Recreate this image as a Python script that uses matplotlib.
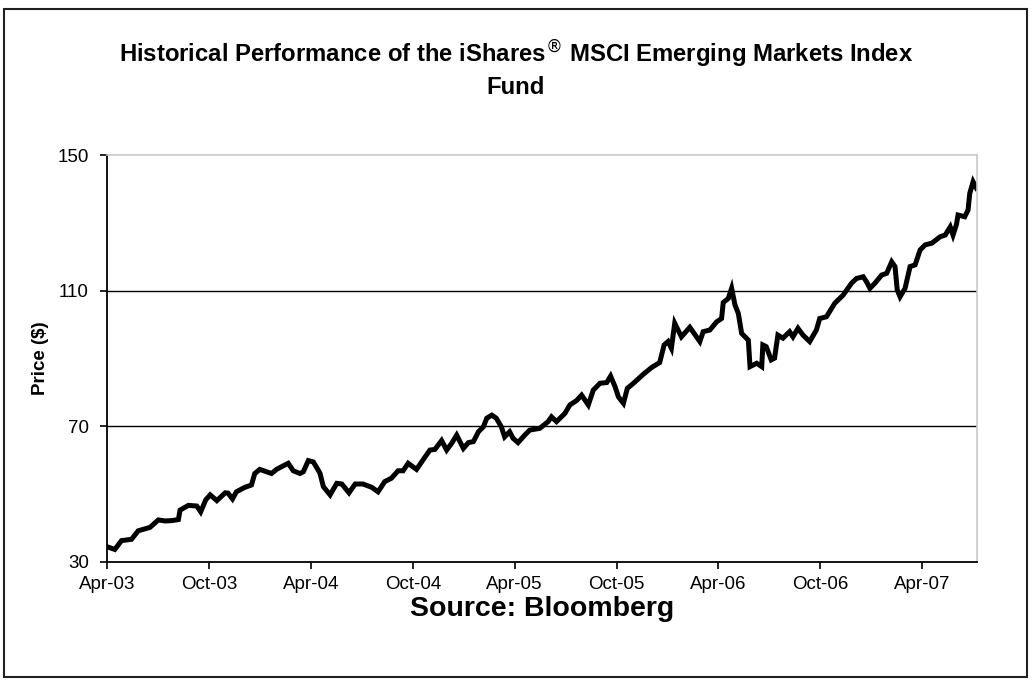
import matplotlib
matplotlib.use("Agg")
import matplotlib.pyplot as plt
from matplotlib.patches import Rectangle
import pandas as pd

plt.rcParams['font.family'] = ['Liberation Sans', 'DejaVu Sans']

start_date = "2003-04-01"
days_since_start = [
    0, 14, 26, 44, 56, 77, 92, 104, 116, 128, 131, 146, 161, 168, 177, 185, 197, 212, 217, 225,
    232, 247, 259, 265, 274, 286, 295, 304, 313, 325, 334, 346, 352, 361, 370, 379, 382, 388, 400, 412,
    421, 434, 445, 459, 475, 486, 498, 510, 522, 531, 540, 555, 570, 579, 588, 600, 609, 618, 627, 639,
    648, 657, 666, 675, 681, 690, 698, 707, 713, 722, 728, 737, 749, 758, 776, 791, 797, 806, 821, 830,
    842, 851, 863, 872, 884, 896, 903, 911, 917, 926, 933, 944, 962, 977, 991, 999, 1006, 1012, 1018, 1024,
    1030, 1045, 1057, 1063, 1069, 1081, 1093, 1102, 1105, 1114, 1120, 1126, 1132, 1138, 1150, 1153, 1165, 1174, 1176, 1182,
    1191, 1197, 1203, 1212, 1224, 1230, 1239, 1248, 1260, 1272, 1278, 1290, 1305, 1320, 1335, 1344, 1356, 1362, 1368, 1377,
    1389, 1398, 1407, 1413, 1417, 1422, 1431, 1440, 1449, 1458, 1467, 1479, 1494, 1503, 1512, 1517, 1523, 1526, 1538, 1544,
    1547, 1553, 1559,
]
price = [
    34.5, 33.7, 36.3, 36.7, 39.2, 40.2, 42.4, 42.1, 42.2, 42.5, 45.3, 46.7, 46.5, 44.8, 48.3, 49.8, 48.1, 50.4, 50.3, 48.6,
    50.7, 52.0, 52.7, 56.1, 57.3, 56.6, 56.1, 57.3, 58.1, 59.1, 56.9, 56.1, 56.6, 59.9, 59.5, 57.0, 56.1, 52.2, 49.8, 53.2,
    53.0, 50.4, 53.0, 53.0, 52.0, 50.7, 53.7, 54.7, 56.9, 56.9, 59.1, 57.3, 60.9, 63.0, 63.2, 65.8, 63.0, 65.0, 67.4, 63.5,
    65.2, 65.5, 68.4, 69.9, 72.4, 73.3, 72.4, 69.9, 66.9, 68.4, 66.5, 65.2, 67.4, 68.9, 69.4, 71.4, 72.8, 71.4, 73.8, 76.3,
    77.6, 79.2, 76.3, 80.7, 82.7, 82.9, 84.8, 81.7, 78.7, 76.8, 81.2, 82.7, 85.4, 87.4, 88.8, 94.0, 95.0, 93.0, 100.4, 98.4,
    96.4, 99.2, 96.4, 95.0, 97.9, 98.4, 100.8, 101.8, 106.5, 107.7, 110.7, 105.8, 103.3, 97.4, 95.4, 87.6, 88.6, 87.6, 94.0, 93.5,
    89.6, 90.1, 96.9, 96.0, 97.9, 96.4, 98.9, 96.9, 95.0, 98.4, 101.8, 102.3, 106.3, 108.7, 112.2, 113.6, 114.1, 112.6, 110.7, 112.2,
    114.6, 115.1, 118.5, 117.1, 110.2, 108.2, 110.7, 117.1, 117.6, 122.0, 123.5, 124.0, 125.9, 126.4, 128.8, 126.4, 129.4, 132.3, 131.8, 133.8,
    138.7, 142.1, 140.2,
]
tick_dates = ["2003-04-01", "2003-10-01", "2004-04-01", "2004-10-01", "2005-04-01",
              "2005-10-01", "2006-04-01", "2006-10-01", "2007-04-01"]
tick_labels = ["Apr-03", "Oct-03", "Apr-04", "Oct-04", "Apr-05", "Oct-05", "Apr-06", "Oct-06", "Apr-07"]
y_ticks = [30, 70, 110, 150]
x_end = "2007-07-09"

dates = pd.Timestamp(start_date) + pd.to_timedelta(days_since_start, unit="D")

fig = plt.figure(figsize=(10.32, 6.87), dpi=100)
fig.patches.append(Rectangle((0.004, 0.015), 0.991, 0.972, transform=fig.transFigure,
                             fill=False, edgecolor='#202020', linewidth=1.5))

ax = fig.add_axes([107/1032, 1 - 562/687, 870/1032, 407/687])
ax.plot(dates, price, color='black', linewidth=3.6, solid_joinstyle='miter')

ax.set_ylim(30, 150)
ax.set_xlim(pd.Timestamp(start_date), pd.Timestamp(x_end))
ax.set_yticks(y_ticks)
ax.set_xticks(pd.to_datetime(tick_dates))
ax.set_xticklabels(tick_labels)
for v in [70, 110]:
    ax.axhline(v, color='black', linewidth=1.0, zorder=0)

for s in ['left', 'bottom']:
    ax.spines[s].set_color('black')
    ax.spines[s].set_linewidth(1.3)
for s in ['top', 'right']:
    ax.spines[s].set_color('#c8c8c8')
    ax.spines[s].set_linewidth(1.2)

ax.tick_params(axis='both', direction='out', length=5, width=1.2, labelsize=13.5, colors='black')
ax.tick_params(axis='y', pad=8)
ax.tick_params(axis='x', pad=5)

ax.set_ylabel("Price ($)", fontsize=13.5, fontweight='bold', labelpad=6)

fig.text(0.5, 1 - 54/687, "Historical Performance of the iShares$^{\u00ae}$ MSCI Emerging Markets Index",
         ha='center', va='center', fontsize=17.2, fontweight='bold')
fig.text(0.5, 1 - 87/687, "Fund", ha='center', va='center', fontsize=17.2, fontweight='bold')
fig.text((107 + 977) / 2 / 1032, 1 - 609/687, "Source: Bloomberg", ha='center', va='center',
         fontsize=20.5, fontweight='bold')

fig.savefig("out.png", dpi=100)
